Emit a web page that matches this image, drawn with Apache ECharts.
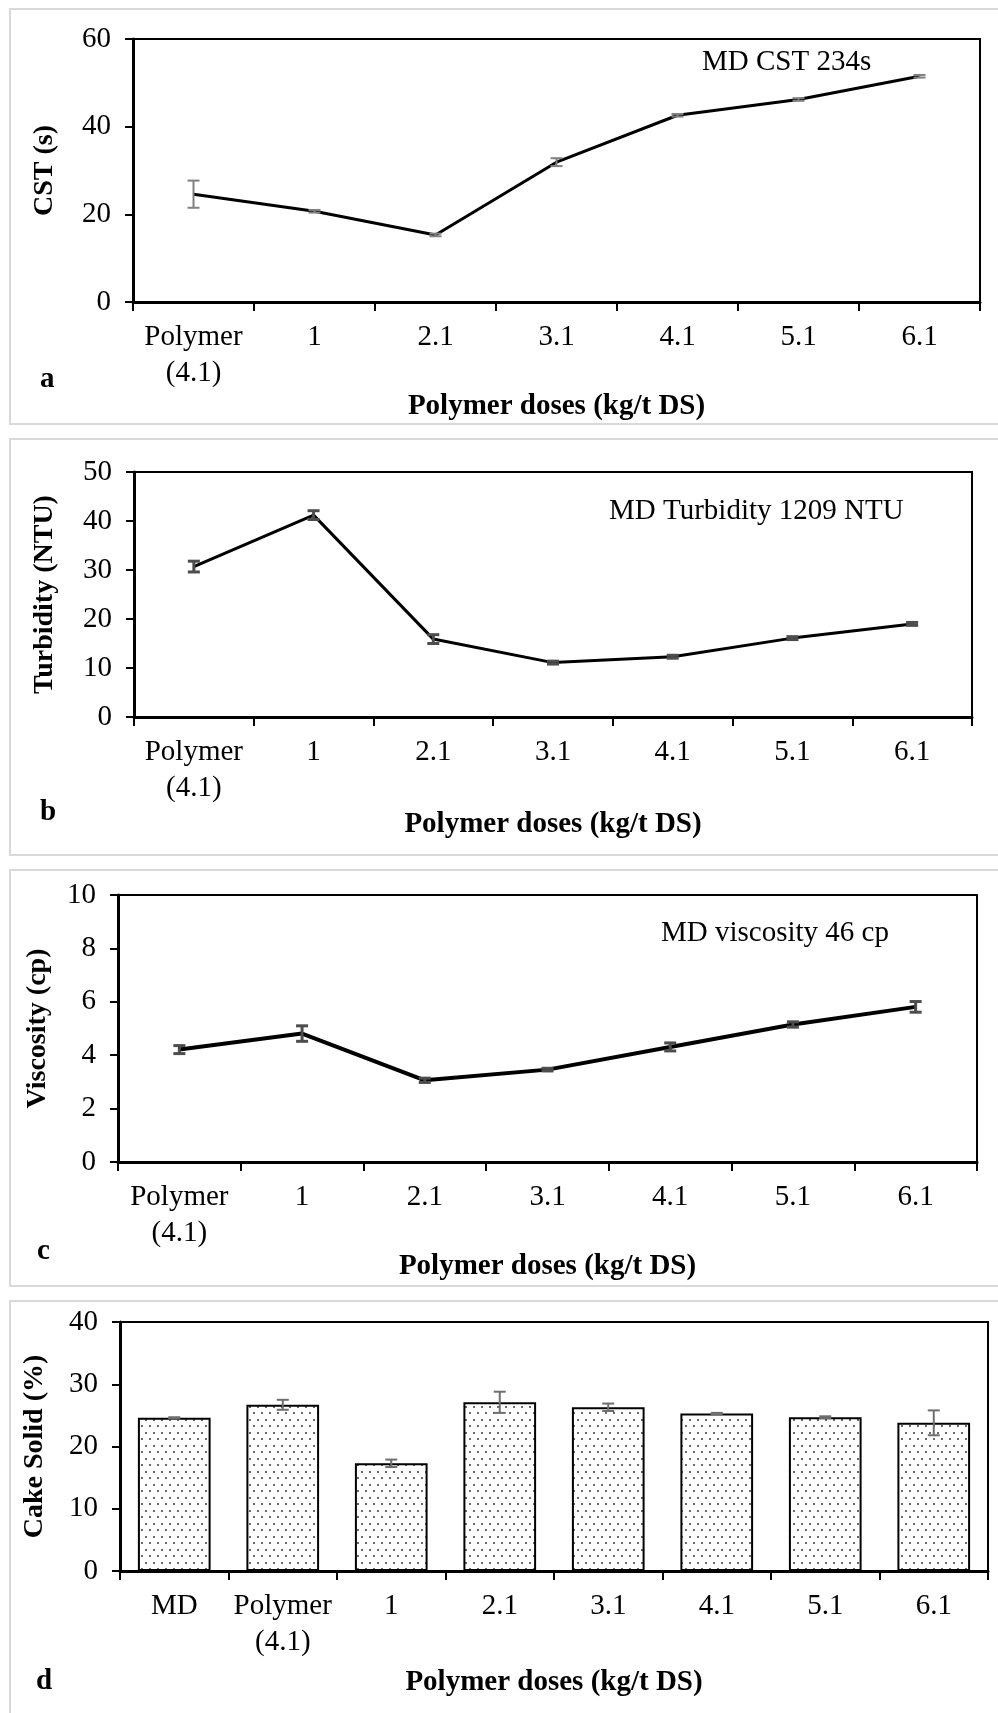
<!DOCTYPE html>
<html lang="en">
<head>
<meta charset="UTF-8">
<script src="https://cdn.jsdelivr.net/npm/echarts@6/dist/echarts.min.js"></script>
<style>
    html, body { margin: 0; padding: 0; background: #fff; }
    #chart { width: 998px; height: 1713px; }
</style>
</head>
<body>
<div id="chart"></div>
<script>
// x categories
var doseLabels = ['Polymer\n(4.1)', '1', '2.1', '3.1', '4.1', '5.1', '6.1'];
var cakeLabels = ['MD', 'Polymer\n(4.1)', '1', '2.1', '3.1', '4.1', '5.1', '6.1'];

// a - CST (s)
var cstValues = [24.6, 20.7, 15.3, 31.9, 42.6, 46.2, 51.5];
var cstErrors = [3.1, 0.3, 0.3, 0.9, 0.3, 0.3, 0.3];
// b - turbidity (NTU)
var turbValues = [30.7, 41.2, 15.9, 11.1, 12.3, 16.1, 19.0];
var turbErrors = [1.1, 0.9, 0.9, 0.3, 0.3, 0.3, 0.3];
// c - viscosity (cp)
var viscValues = [4.21, 4.81, 3.06, 3.46, 4.31, 5.15, 5.81];
var viscErrors = [0.15, 0.29, 0.08, 0.05, 0.15, 0.1, 0.2];
// d - cake solid (%)
var cakeValues = [24.6, 26.7, 17.3, 27.1, 26.3, 25.3, 24.7, 23.8];
var cakeErrors = [0.1, 0.8, 0.6, 1.7, 0.6, 0.1, 0.15, 2.0];

// y axis ranges
var yMax = [60, 50, 10, 40];
var yStep = [20, 10, 2, 10];

var serif = '"Liberation Serif", "Times New Roman", serif';
var fs = 29;

// dotted fill for the bars
var tile = document.createElement('canvas');
tile.width = 8; tile.height = 13;
var tctx = tile.getContext('2d');
tctx.fillStyle = '#fff';
tctx.fillRect(0, 0, 8, 13);
tctx.fillStyle = '#6a6a6a';
tctx.fillRect(1, 2, 2, 2);
tctx.fillRect(5, 8, 2, 2);

function xAxisFor(idx, cats, nameGap) {
    return {
        type: 'category', gridIndex: idx, data: cats,
        axisLine: { show: true, onZero: false, lineStyle: { color: '#000', width: 3 } },
        axisTick: { show: true, length: 9, lineStyle: { color: '#000', width: 2 } },
        axisLabel: { color: '#000', fontFamily: serif, fontSize: fs, lineHeight: 36, margin: 17, interval: 0 },
        splitLine: { show: false },
        name: 'Polymer doses (kg/t DS)', nameLocation: 'middle', nameGap: nameGap,
        nameTextStyle: { color: '#000', fontFamily: serif, fontSize: fs, fontWeight: 'bold' }
    };
}

function yAxisFor(idx, name, nameGap) {
    return {
        type: 'value', gridIndex: idx, min: 0, max: yMax[idx], interval: yStep[idx],
        axisLine: { show: true, lineStyle: { color: '#000', width: 3 } },
        axisTick: { show: true, length: 8, lineStyle: { color: '#000', width: 2 } },
        splitLine: { show: false },
        axisLabel: { color: '#000', fontFamily: serif, fontSize: fs, margin: 22 },
        name: name, nameLocation: 'middle', nameGap: nameGap, nameRotate: 90,
        nameTextStyle: { color: '#000', fontFamily: serif, fontSize: 28, fontWeight: 'bold' }
    };
}

// error bars drawn through the axes of the given grid
function errorSeries(idx, values, errors, color, width) {
    return {
        type: 'custom', xAxisIndex: idx, yAxisIndex: idx, z: 5, silent: true,
        data: values.map(function (v, i) { return [i, v - errors[i], v + errors[i]]; }),
        renderItem: function (params, api) {
            var lo = api.coord([api.value(0), api.value(1)]);
            var hi = api.coord([api.value(0), api.value(2)]);
            var hw = 6;
            var st = { stroke: color, lineWidth: width };
            return {
                type: 'group',
                children: [
                    { type: 'line', shape: { x1: lo[0], y1: lo[1], x2: hi[0], y2: hi[1] }, style: st },
                    { type: 'line', shape: { x1: lo[0] - hw, y1: lo[1], x2: lo[0] + hw, y2: lo[1] }, style: st },
                    { type: 'line', shape: { x1: hi[0] - hw, y1: hi[1], x2: hi[0] + hw, y2: hi[1] }, style: st }
                ]
            };
        }
    };
}

function lineSeries(idx, values, width) {
    return {
        type: 'line', xAxisIndex: idx, yAxisIndex: idx, data: values, z: 3,
        symbol: 'none', lineStyle: { color: '#000', width: width }
    };
}

function panelBox(top, bottom) {
    return {
        type: 'rect', z: -10, silent: true,
        shape: { x: 10, y: top, width: 1000, height: bottom - top },
        style: { fill: '#fff', stroke: '#d9d9d9', lineWidth: 2 }
    };
}

function note(text, x, y, bold) {
    return {
        type: 'text', x: x, y: y, z: 10, silent: true,
        style: { text: text, fill: '#000', font: (bold ? 'bold ' : '') + fs + 'px ' + serif, verticalAlign: 'middle' }
    };
}

var gridStyle = { show: true, borderColor: '#000', borderWidth: 2, backgroundColor: 'transparent' };

var chart = echarts.init(document.getElementById('chart'));
chart.setOption({
    backgroundColor: '#fff',
    animation: false,
    grid: [
        Object.assign({ left: 133, right: 18, top: 39, height: 263 }, gridStyle),
        Object.assign({ left: 134, right: 26, top: 472, height: 245 }, gridStyle),
        Object.assign({ left: 118, right: 21, top: 895, height: 267 }, gridStyle),
        Object.assign({ left: 120, right: 10, top: 1322, height: 249 }, gridStyle)
    ],
    xAxis: [
        xAxisFor(0, doseLabels, 88),
        xAxisFor(1, doseLabels, 93),
        xAxisFor(2, doseLabels, 88),
        xAxisFor(3, cakeLabels, 97)
    ],
    yAxis: [
        yAxisFor(0, 'CST (s)', 74),
        yAxisFor(1, 'Turbidity (NTU)', 75),
        yAxisFor(2, 'Viscosity (cp)', 66),
        yAxisFor(3, 'Cake Solid (%)', 71)
    ],
    graphic: [
        panelBox(9, 424),
        panelBox(439, 855),
        panelBox(870, 1286),
        panelBox(1301, 1720),
        note('MD CST 234s', 702, 62),
        note('MD Turbidity 1209 NTU', 609, 511),
        note('MD viscosity 46 cp', 661, 933),
        note('a', 40, 380, true),
        note('b', 40, 813, true),
        note('c', 37, 1252, true),
        note('d', 36, 1682, true)
    ],
    series: [
        lineSeries(0, cstValues, 3),
        errorSeries(0, cstValues, cstErrors, '#808080', 2),
        lineSeries(1, turbValues, 3),
        errorSeries(1, turbValues, turbErrors, '#4d4d4d', 3),
        lineSeries(2, viscValues, 4),
        errorSeries(2, viscValues, viscErrors, '#4d4d4d', 3),
        {
            type: 'bar', xAxisIndex: 3, yAxisIndex: 3, data: cakeValues, z: 2,
            barCategoryGap: '33%',
            itemStyle: { color: { image: tile, repeat: 'repeat' }, borderColor: '#000', borderWidth: 2 }
        },
        errorSeries(3, cakeValues, cakeErrors, '#6e6e6e', 2)
    ]
});
</script>
</body>
</html>
